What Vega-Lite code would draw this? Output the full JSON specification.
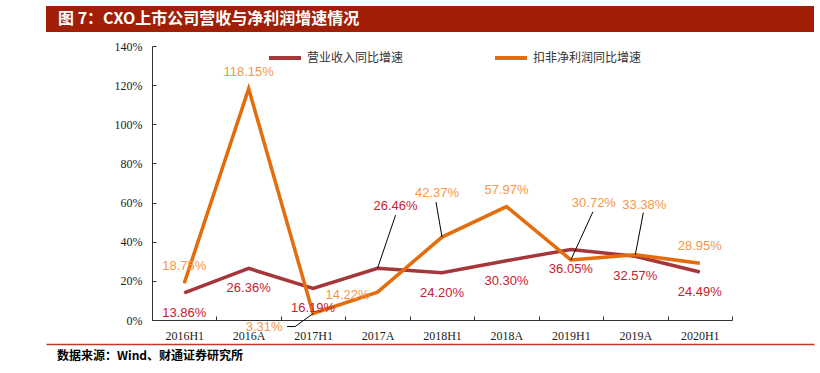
{
  "$schema": "https://vega.github.io/schema/vega-lite/v6.json",
  "background": "white",
  "padding": {"top": 6, "left": 46, "right": 6, "bottom": 4},
  "bounds": "flush",
  "spacing": 14,
  "config": {"view": {"stroke": null}},
  "datasets": {
    "d": [
      {"cat": "2016H1", "s": "rev", "series": "营业收入同比增速", "v": 0.1386},
      {"cat": "2016A", "s": "rev", "series": "营业收入同比增速", "v": 0.2636},
      {"cat": "2017H1", "s": "rev", "series": "营业收入同比增速", "v": 0.1619},
      {"cat": "2017A", "s": "rev", "series": "营业收入同比增速", "v": 0.2646},
      {"cat": "2018H1", "s": "rev", "series": "营业收入同比增速", "v": 0.2420},
      {"cat": "2018A", "s": "rev", "series": "营业收入同比增速", "v": 0.3030},
      {"cat": "2019H1", "s": "rev", "series": "营业收入同比增速", "v": 0.3605},
      {"cat": "2019A", "s": "rev", "series": "营业收入同比增速", "v": 0.3257},
      {"cat": "2020H1", "s": "rev", "series": "营业收入同比增速", "v": 0.2449},
      {"cat": "2016H1", "s": "np", "series": "扣非净利润同比增速", "v": 0.1875},
      {"cat": "2016A", "s": "np", "series": "扣非净利润同比增速", "v": 1.1815},
      {"cat": "2017H1", "s": "np", "series": "扣非净利润同比增速", "v": 0.0331},
      {"cat": "2017A", "s": "np", "series": "扣非净利润同比增速", "v": 0.1422},
      {"cat": "2018H1", "s": "np", "series": "扣非净利润同比增速", "v": 0.4237},
      {"cat": "2018A", "s": "np", "series": "扣非净利润同比增速", "v": 0.5797},
      {"cat": "2019H1", "s": "np", "series": "扣非净利润同比增速", "v": 0.3072},
      {"cat": "2019A", "s": "np", "series": "扣非净利润同比增速", "v": 0.3338},
      {"cat": "2020H1", "s": "np", "series": "扣非净利润同比增速", "v": 0.2895}
    ]
  },
  "vconcat": [
    {
      "width": 768,
      "height": 26,
      "view": {"fill": "#A01F06", "stroke": null},
      "data": {"values": [{"t": "图 7：CXO上市公司营收与净利润增速情况"}]},
      "mark": {"type": "text", "align": "left", "baseline": "middle", "dx": 12, "color": "white", "font": "Noto Sans CJK SC", "fontWeight": "bold", "fontSize": 16},
      "encoding": {
        "x": {"datum": 0, "type": "quantitative", "scale": {"domain": [0, 1]}, "axis": null},
        "text": {"field": "t"}
      }
    },
    {
      "width": 768,
      "height": 274,
      "data": {"name": "d"},
      "encoding": {
        "x": {
          "field": "cat", "type": "nominal",
          "scale": {"type": "band", "domain": ["2016H1", "2016A", "2017H1", "2017A", "2018H1", "2018A", "2019H1", "2019A", "2020H1"], "range": [106, 686], "paddingInner": 0, "paddingOuter": 0},
          "axis": {"title": null, "tickBand": "extent", "tickSize": -4, "labelPadding": 14, "labelAngle": 0, "labelFont": "Liberation Serif", "labelFontSize": 12, "labelColor": "#222", "domainColor": "#333", "tickColor": "#333", "grid": false}
        },
        "y": {
          "field": "v", "type": "quantitative",
          "scale": {"domain": [0, 1.4], "nice": false},
          "axis": {"title": null, "values": [0, 0.2, 0.4, 0.6, 0.8, 1.0, 1.2, 1.4], "format": ".0%", "offset": -106, "tickSize": -4, "labelPadding": 14, "labelFont": "Liberation Serif", "labelFontSize": 12, "labelColor": "#222", "domainColor": "#333", "tickColor": "#333", "grid": false}
        }
      },
      "layer": [
        {
          "mark": {"type": "line", "strokeWidth": 3.5},
          "encoding": {
            "color": {
              "field": "series", "type": "nominal",
              "scale": {"domain": ["营业收入同比增速", "扣非净利润同比增速"], "range": ["#A5373B", "#E46C0A"]},
              "legend": {"orient": "none", "legendX": 221, "legendY": 34, "direction": "horizontal", "title": null, "symbolType": "stroke", "symbolSize": 1024, "symbolStrokeWidth": 4, "labelFont": "Noto Sans CJK SC", "labelFontSize": 12, "labelColor": "#333", "labelOffset": 4, "columnPadding": 83, "padding": 0, "labelLimit": 300}
            }
          }
        },
        {
          "transform": [{"filter": "datum.s === 'rev' && datum.cat !== '2017A'"}],
          "mark": {"type": "text", "dy": 20, "font": "Liberation Sans", "fontSize": 13, "color": "#C8202F"},
          "encoding": {"text": {"field": "v", "type": "quantitative", "format": ".2%"}}
        },
        {
          "transform": [{"filter": "datum.s === 'rev' && datum.cat === '2017A'"}],
          "mark": {"type": "text", "dx": 18, "dy": -62, "font": "Liberation Sans", "fontSize": 13, "color": "#C8202F"},
          "encoding": {"text": {"field": "v", "type": "quantitative", "format": ".2%"}}
        },
        {
          "transform": [{"filter": "datum.s === 'np' && indexof(['2016H1','2016A','2018A','2020H1'], datum.cat) >= 0"}],
          "mark": {"type": "text", "dy": -17, "font": "Liberation Sans", "fontSize": 13, "color": "#F79646"},
          "encoding": {"text": {"field": "v", "type": "quantitative", "format": ".2%"}}
        },
        {
          "transform": [{"filter": "datum.s === 'np' && datum.cat === '2017H1'"}],
          "mark": {"type": "text", "dx": -49, "dy": 13, "font": "Liberation Sans", "fontSize": 13, "color": "#F79646"},
          "encoding": {"text": {"field": "v", "type": "quantitative", "format": ".2%"}}
        },
        {
          "transform": [{"filter": "datum.s === 'np' && datum.cat === '2017A'"}],
          "mark": {"type": "text", "dx": -30, "dy": 3, "font": "Liberation Sans", "fontSize": 13, "color": "#F79646"},
          "encoding": {"text": {"field": "v", "type": "quantitative", "format": ".2%"}}
        },
        {
          "transform": [{"filter": "datum.s === 'np' && datum.cat === '2018H1'"}],
          "mark": {"type": "text", "dx": -5, "dy": -44, "font": "Liberation Sans", "fontSize": 13, "color": "#F79646"},
          "encoding": {"text": {"field": "v", "type": "quantitative", "format": ".2%"}}
        },
        {
          "transform": [{"filter": "datum.s === 'np' && datum.cat === '2019H1'"}],
          "mark": {"type": "text", "dx": 23, "dy": -57, "font": "Liberation Sans", "fontSize": 13, "color": "#F79646"},
          "encoding": {"text": {"field": "v", "type": "quantitative", "format": ".2%"}}
        },
        {
          "transform": [{"filter": "datum.s === 'np' && datum.cat === '2019A'"}],
          "mark": {"type": "text", "dx": 9, "dy": -50, "font": "Liberation Sans", "fontSize": 13, "color": "#F79646"},
          "encoding": {"text": {"field": "v", "type": "quantitative", "format": ".2%"}}
        },
        {
          "transform": [{"filter": "datum.s === 'rev' && datum.cat === '2017A'"}],
          "mark": {"type": "rule", "color": "#000", "strokeWidth": 1, "x2Offset": 18, "y2Offset": -53},
          "encoding": {"x2": {"field": "cat"}, "y2": {"field": "v"}}
        },
        {
          "transform": [{"filter": "datum.s === 'np' && datum.cat === '2018H1'"}],
          "mark": {"type": "rule", "color": "#000", "strokeWidth": 1, "x2Offset": -6, "y2Offset": -35},
          "encoding": {"x2": {"field": "cat"}, "y2": {"field": "v"}}
        },
        {
          "transform": [{"filter": "datum.s === 'np' && datum.cat === '2019H1'"}],
          "mark": {"type": "rule", "color": "#000", "strokeWidth": 1, "x2Offset": 22, "y2Offset": -48},
          "encoding": {"x2": {"field": "cat"}, "y2": {"field": "v"}}
        },
        {
          "transform": [{"filter": "datum.s === 'np' && datum.cat === '2019A'"}],
          "mark": {"type": "rule", "color": "#000", "strokeWidth": 1, "x2Offset": 8, "y2Offset": -42},
          "encoding": {"x2": {"field": "cat"}, "y2": {"field": "v"}}
        },
        {
          "transform": [{"filter": "datum.s === 'np' && datum.cat === '2017H1'"}],
          "mark": {"type": "rule", "color": "#000", "strokeWidth": 1, "x2Offset": -18, "y2Offset": 13},
          "encoding": {"x2": {"field": "cat"}, "y2": {"field": "v"}}
        },
        {
          "transform": [{"filter": "datum.s === 'np' && datum.cat === '2017H1'"}],
          "mark": {"type": "rule", "color": "#000", "strokeWidth": 1, "xOffset": -18, "yOffset": 13, "x2Offset": -26, "y2Offset": 13},
          "encoding": {"x2": {"field": "cat"}, "y2": {"field": "v"}}
        }
      ]
    },
    {
      "width": 768,
      "height": 44,
      "data": {"values": [{"src": "数据来源：Wind、财通证券研究所"}]},
      "mark": {"type": "text", "align": "left", "baseline": "middle", "dx": 11, "font": "Noto Sans CJK SC", "fontWeight": "bold", "fontSize": 12, "color": "#000"},
      "encoding": {
        "x": {"datum": 0, "type": "quantitative", "scale": {"domain": [0, 1]}, "axis": {"orient": "top", "offset": -10, "domainColor": "#C0392B", "domainWidth": 1.5, "ticks": false, "labels": false, "grid": false, "title": null}},
        "text": {"field": "src"}
      }
    }
  ]
}
